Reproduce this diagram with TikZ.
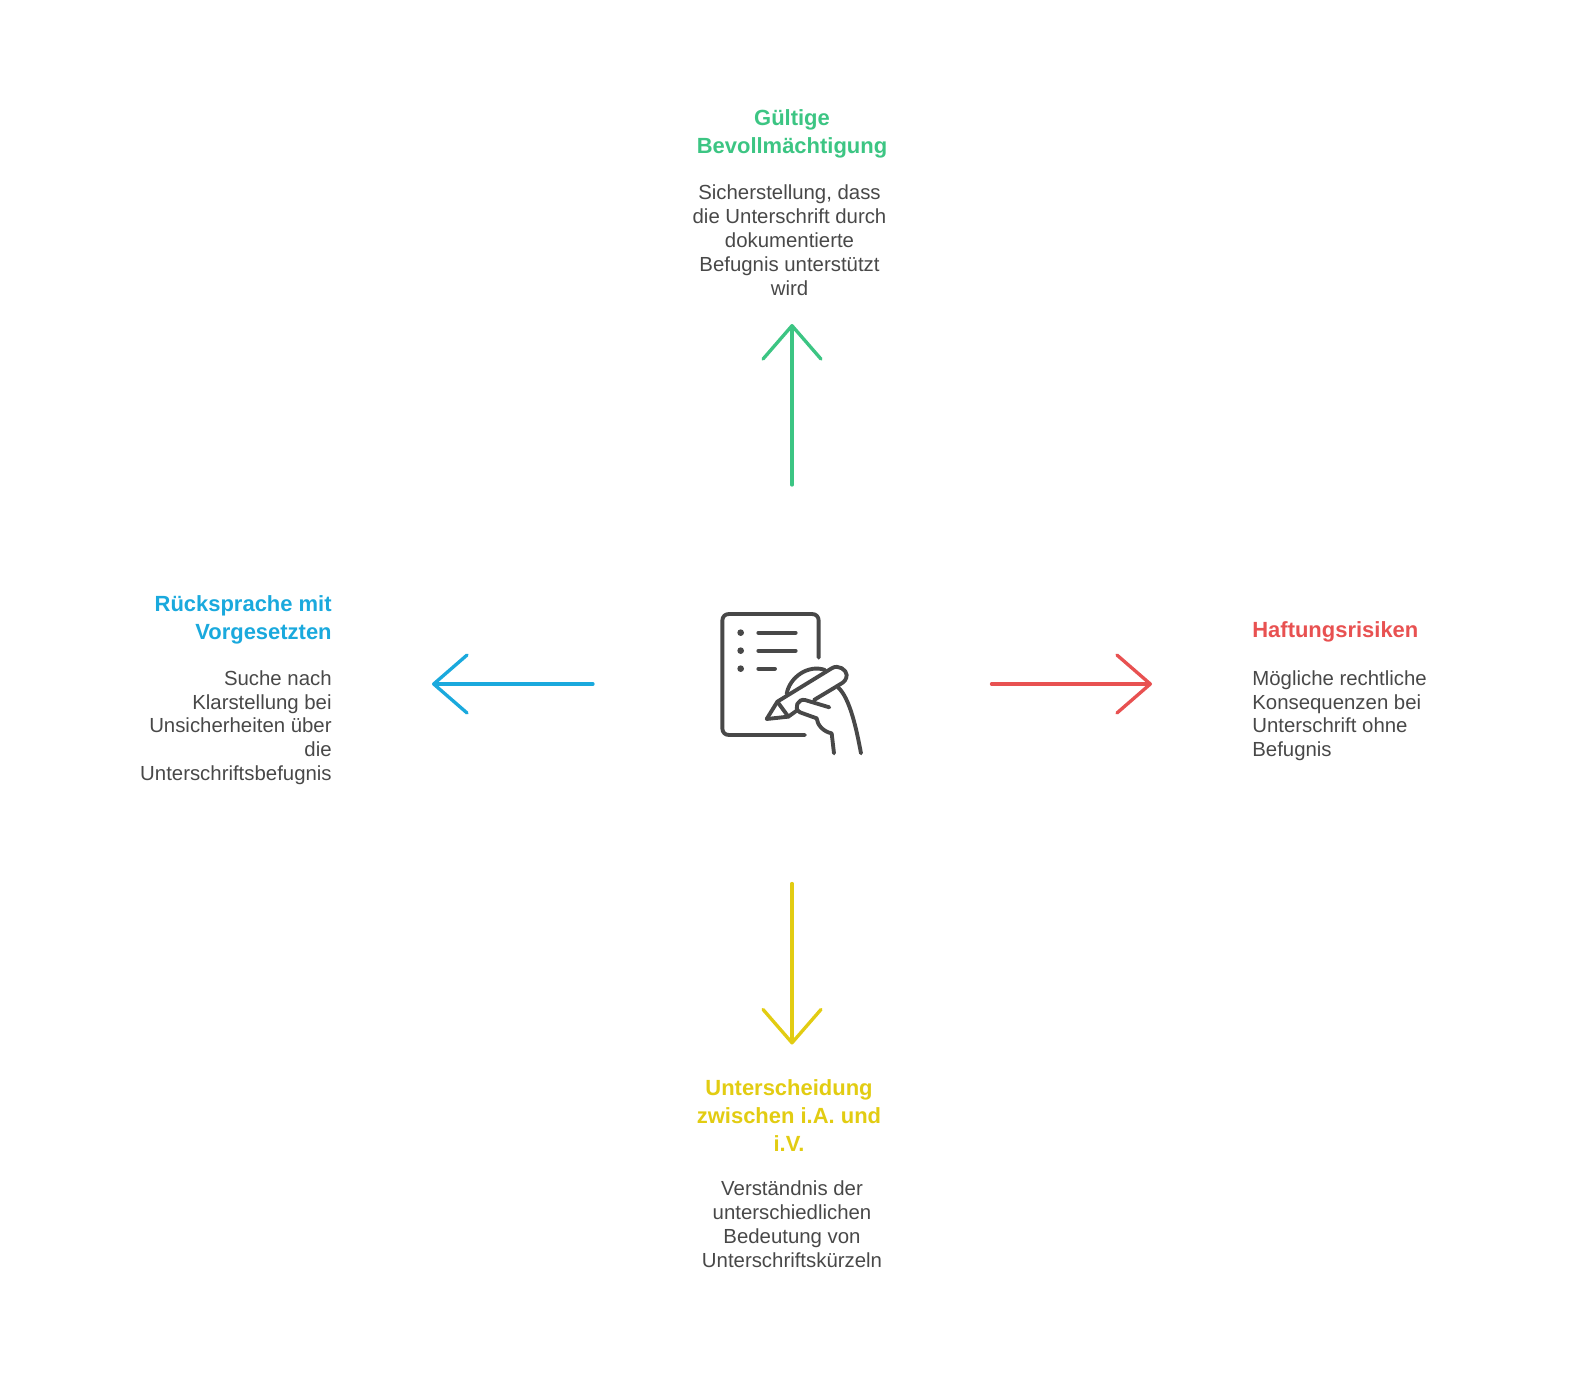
\documentclass[tikz,border=0pt]{standalone}
\usepackage{fontspec}
\setmainfont{Liberation Sans}
\usepackage{tikz}
\usetikzlibrary{arrows.meta}
\definecolor{gruen}{HTML}{3CC583}
\definecolor{rot}{HTML}{E85151}
\definecolor{blau}{HTML}{1AA9DD}
\definecolor{gelb}{HTML}{E2CC12}
\definecolor{grau}{HTML}{484848}

\begin{document}
\begin{tikzpicture}[x=0.02cm,y=-0.02cm,
  titel/.style={font=\fontsize{12.5}{15.9}\selectfont\bfseries,inner sep=0pt},
  info/.style={font=\fontsize{11.6}{13.6}\selectfont,text=grau,inner sep=0pt},
  pfeil/.style={line width=1.9pt,line cap=round,-{Straight Barb[length=19pt,width=33pt,line width=1.9pt,round]}},
  icon/.style={draw=grau,line width=2.2pt,line cap=round,line join=round}]
\useasboundingbox (0,0) rectangle (1584,1392);

% Mitte
\coordinate (obenA) at (792,485);
\coordinate (obenB) at (792,324);
\coordinate (rechtsA) at (991.5,684);
\coordinate (rechtsB) at (1152,684);
\coordinate (untenA) at (792,883.5);
\coordinate (untenB) at (792,1044.5);
\coordinate (linksA) at (593,684);
\coordinate (linksB) at (432,684);

\draw[pfeil,gruen] (obenA) -- (obenB);
\draw[pfeil,rot] (rechtsA) -- (rechtsB);
\draw[pfeil,gelb] (untenA) -- (untenB);
\draw[pfeil,blau] (linksA) -- (linksB);

% Oben
\node[titel,text=gruen,align=center,anchor=north] (titelOben) at (792,109) {Gültige\\Bevollmächtigung};
\node[info,align=center,anchor=north] (infoOben) at (789.5,184.5) {Sicherstellung, dass\\die Unterschrift durch\\dokumentierte\\Befugnis unterstützt\\wird};

% Rechts
\node[titel,text=rot,align=left,anchor=north west] (titelRechts) at (1252,621) {Haftungsrisiken};
\node[info,align=left,anchor=north west] (infoRechts) at (1252,670) {Mögliche rechtliche\\Konsequenzen bei\\Unterschrift ohne\\Befugnis};

% Unten
\node[titel,text=gelb,align=center,anchor=north] (titelUnten) at (789,1079) {Unterscheidung\\zwischen i.A. und\\i.V.};
\node[info,align=center,anchor=north] (infoUnten) at (792,1180.5) {Verständnis der\\unterschiedlichen\\Bedeutung von\\Unterschriftskürzeln};

% Links
\node[titel,text=blau,align=right,anchor=north east] (titelLinks) at (332,595) {Rücksprache mit\\Vorgesetzten};
\node[info,align=right,anchor=north east] (infoLinks) at (332,670) {Suche nach\\Klarstellung bei\\Unsicherheiten über\\die\\Unterschriftsbefugnis};

% Hand mit Stift
\begin{scope}[shift={(690,590)},x=0.00667cm,y=-0.00667cm]
\draw[icon] (386,203) -- (386,92) .. controls (386,80) and (378,72) .. (366,72) -- (117,72)
  .. controls (105,72) and (97,80) .. (97,92) -- (97,415) .. controls (97,427) and (105,435) .. (117,435) -- (345,435);
\fill[grau] (152,128) circle (10) (152,182) circle (10) (152,236) circle (10);
\draw[icon] (205,128) -- (317,128);
\draw[icon] (205,182) -- (317,182);
\draw[icon] (205,236) -- (255,236);
\draw[icon] (230,387) -- (262,335) -- (425,235) .. controls (445,222) and (470,240) .. (470,255)
  .. controls (470,268) and (462,276) .. (455,280) -- (372,330);
\draw[icon] (230,387) -- (295,380) -- (320,362);
\draw[icon] (262,335) -- (295,380);
\draw[icon] (290,312) .. controls (298,262) and (355,222) .. (405,240);
\draw[icon] (418,352) -- (345,330) .. controls (325,325) and (308,355) .. (330,367) -- (380,385)
  .. controls (382,405) and (400,425) .. (425,430) -- (432,490);
\draw[icon] (445,293) .. controls (480,325) and (500,420) .. (513,490);
\end{scope}
\end{tikzpicture}
\end{document}
